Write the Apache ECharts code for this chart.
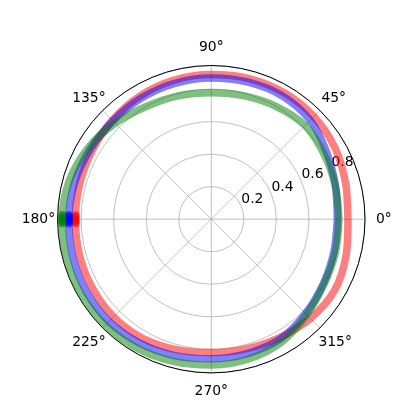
<!DOCTYPE html>
<html>
<head>
<meta charset="utf-8">
<script src="https://cdn.jsdelivr.net/npm/echarts@6/dist/echarts.min.js"></script>
<style>
  html,body{margin:0;padding:0;background:#fff;}
  #chart{width:401px;height:420px;}
</style>
</head>
<body>
<div id="chart"></div>
<script>
// angles in degrees, radii
var angles = [0, 15, 30, 45, 60, 75, 90, 105, 120, 135, 150, 165, 180, 195, 210, 225, 240, 255, 270, 285, 300, 315, 330, 345, 360]
var redR   = [0.840, 0.855, 0.878, 0.892, 0.897, 0.895, 0.889, 0.885, 0.875, 0.860, 0.845, 0.838, 0.835, 0.840, 0.845, 0.850, 0.845, 0.830, 0.820, 0.825, 0.840, 0.862, 0.875, 0.858, 0.840]
var blueR  = [0.775, 0.790, 0.820, 0.860, 0.875, 0.872, 0.868, 0.865, 0.860, 0.855, 0.860, 0.870, 0.876, 0.882, 0.888, 0.890, 0.880, 0.868, 0.858, 0.855, 0.850, 0.820, 0.795, 0.780, 0.775]
var greenR = [0.785, 0.790, 0.800, 0.815, 0.800, 0.785, 0.778, 0.785, 0.800, 0.835, 0.875, 0.905, 0.917, 0.922, 0.925, 0.922, 0.915, 0.905, 0.897, 0.890, 0.870, 0.830, 0.800, 0.790, 0.785]
// the cluster of markers sitting at 180 degrees
var markerAngles = [178.3, 178.8, 179.4, 180, 180.6, 181.2, 181.7]
var angleTicks = ['0°', '45°', '90°', '135°', '180°', '225°', '270°', '315°']
var radiusTicks = [0.2, 0.4, 0.6, 0.8]

var rMax = 0.945
var font = 'DejaVu Sans'

// echarts aligns angle labels by side; padding pushes each one out so it sits centred like matplotlib's
var labelPad = {
  a0:   [0, 0, 0, 16],
  a45:  [0, 0, 9, 5],
  a90:  [0, 0, 16, 0],
  a135: [0, 0.5, 9, 0],
  a180: [0, 7.5, 0, 0],
  a225: [11, 0.5, 0, 0],
  a270: [16, 0, 0, 0],
  a315: [11, 0, 0, 2]
}
var rich = {}
Object.keys(labelPad).forEach(function(k){
  rich[k] = {padding: labelPad[k], fontFamily: font, fontSize: 13.9, color: '#000'}
})

function pairs(rs){
  return rs.map(function(r,i){ return [r, angles[i]] })
}
function markers(rs){
  var r = rs[angles.indexOf(180)]
  return markerAngles.map(function(a){ return [r, a] })
}
function lineSeries(name, color, rs){
  return {
    name: name,
    type: 'line',
    coordinateSystem: 'polar',
    polarIndex: 0,
    smooth: 0.3,
    showSymbol: false,
    data: pairs(rs),
    lineStyle: {color: color, width: 7.5, opacity: 0.5},
    z: 3
  }
}
function markerSeries(name, color, rs){
  return {
    name: name + '-m',
    type: 'scatter',
    coordinateSystem: 'polar',
    polarIndex: 0,
    symbol: 'circle',
    symbolSize: 8,
    data: markers(rs),
    itemStyle: {color: color, opacity: 0.5},
    z: 4
  }
}

var chart = echarts.init(document.getElementById('chart'), null, {renderer: 'canvas'})
var option = {
  animation: false,
  polar: [
    {center: [211.3, 219.2], radius: 153.7},
    {center: [211.3, 219.2], radius: 153.7}
  ],
  angleAxis: [
    {
      polarIndex: 0,
      type: 'value',
      min: 0, max: 360, interval: 45,
      startAngle: 0,
      clockwise: false,
      axisLine: {lineStyle: {color: '#000', width: 1}},
      axisTick: {show: false},
      splitLine: {lineStyle: {color: '#b0b0b0', width: 0.8}},
      axisLabel: {
        margin: -5,
        color: '#000',
        fontFamily: font,
        fontSize: 13.9,
        rich: rich,
        formatter: function(v){
          var i = Math.round(v / 45)
          if (i >= angleTicks.length) return ''
          return '{a' + (i * 45) + '|' + angleTicks[i] + '}'
        }
      }
    },
    {
      polarIndex: 1,
      type: 'value',
      min: 0, max: 360,
      startAngle: 22.5,
      clockwise: false,
      show: false
    }
  ],
  radiusAxis: [
    {
      polarIndex: 0,
      type: 'value',
      min: 0, max: rMax, interval: 0.2,
      axisLine: {show: false},
      axisTick: {show: false},
      axisLabel: {show: false},
      splitLine: {lineStyle: {color: '#b0b0b0', width: 0.8}}
    },
    {
      polarIndex: 1,
      type: 'value',
      min: 0, max: rMax, interval: 0.2,
      axisLine: {show: false},
      axisTick: {show: false},
      splitLine: {show: false},
      axisLabel: {
        margin: 0,
        rotate: 0,
        align: 'left',
        verticalAlign: 'bottom',
        color: '#000',
        fontFamily: font,
        fontSize: 13.9,
        formatter: function(v){
          return radiusTicks.indexOf(Math.round(v * 10) / 10) >= 0 ? v.toFixed(1) : ''
        }
      }
    }
  ],
  series: [
    lineSeries('r', '#ff0000', redR),
    lineSeries('b', '#0000ff', blueR),
    lineSeries('g', '#008000', greenR),
    markerSeries('r', '#ff0000', redR),
    markerSeries('b', '#0000ff', blueR),
    markerSeries('g', '#008000', greenR)
  ]
}
chart.setOption(option)
</script>
</body>
</html>
